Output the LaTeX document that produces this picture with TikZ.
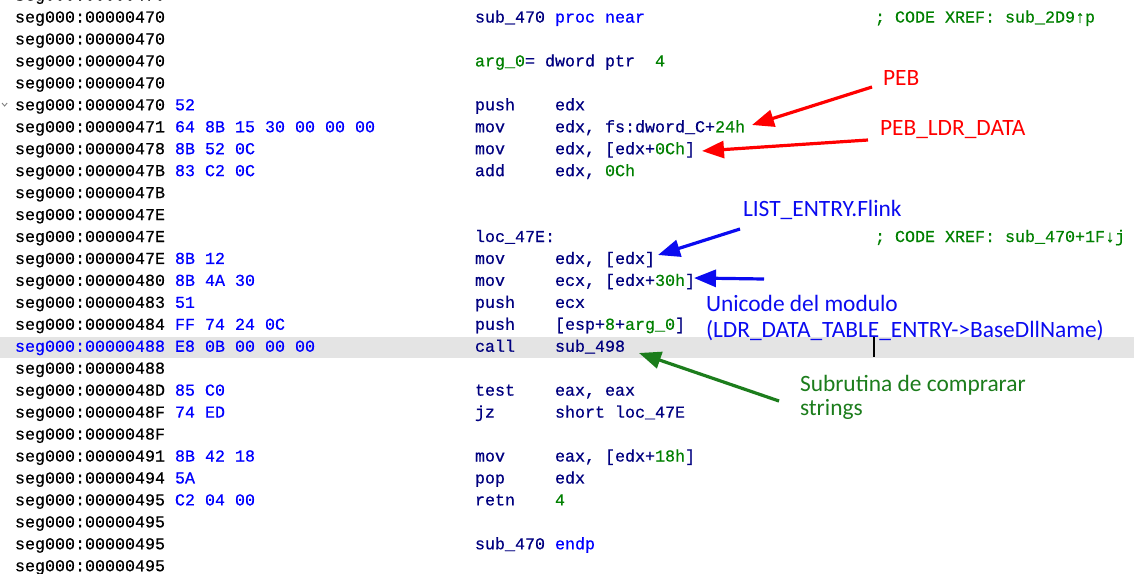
\documentclass[tikz,border=0pt]{standalone}
\usepackage{fontspec}
\usetikzlibrary{arrows.meta}
\newfontfamily\monofont[FakeBold=0.6]{Liberation Mono}
\newfontfamily\annotfont{Carlito}
\definecolor{idanavy}{HTML}{000080}
\definecolor{idablue}{HTML}{0000FF}
\definecolor{idagreen}{HTML}{008000}
\definecolor{annred}{HTML}{FF0000}
\definecolor{annblue}{HTML}{0B0BF0}
\definecolor{anngreen}{HTML}{1C7D1C}
\definecolor{hlgrey}{HTML}{E4E4E4}
\newcommand\numc[1]{\textcolor{idagreen}{#1}}
\newcommand\kwc[1]{\textcolor{idablue}{#1}}
\newcommand\tx[5][]{\node[code,#1] (#2) at ({15+10*#4},{22.5+21.95*(#3)}) {#5};}
\tikzset{
 code/.style={anchor=base west, inner sep=0pt, outer sep=0pt, font=\monofont\fontsize{16.67}{20}\selectfont, text=idanavy},
 addr/.style={text=black},
 hexb/.style={text=idablue},
 cmt/.style={text=idagreen},
 annot/.style={anchor=base west, inner sep=0pt, outer sep=0pt, font=\annotfont\fontsize{23.4}{27}\selectfont},
 callout/.style={line width=3.2pt, -{Triangle[length=22pt,width=17pt]}},
}
\begin{document}
\begin{tikzpicture}[x=1pt,y=-1pt]
\useasboundingbox (0,0) rectangle (1134,573);
\fill[white] (0,0) rectangle (1134,573);
\clip (0,0) rectangle (1134,573);
% highlighted row
\fill[hlgrey] (0,337) rectangle (1134,358);
% collapse chevron
\draw[gray, line width=0.9pt] (2,103) -- (4.6,106) -- (7.2,103);
% ---- code lines ----
\tx[addr]{a00}{-1}{0}{seg000:00000470}
\tx[addr]{a01}{0}{0}{seg000:00000470}
\tx{i01}{0}{46}{sub\_470~\kwc{proc~near}}
\tx[cmt]{c01}{0}{86}{;~CODE~XREF:~sub\_2D9↑p}
\tx[addr]{a02}{1}{0}{seg000:00000470}
\tx[addr]{a03}{2}{0}{seg000:00000470}
\tx{i03}{2}{46}{\numc{arg\_0}=~dword~ptr~~\numc{4}}
\tx[addr]{a04}{3}{0}{seg000:00000470}
\tx[addr]{a05}{4}{0}{seg000:00000470}
\tx[hexb]{b05}{4}{16}{52}
\tx{i05}{4}{46}{push~~~~edx}
\tx[addr]{a06}{5}{0}{seg000:00000471}
\tx[hexb]{b06}{5}{16}{64~8B~15~30~00~00~00}
\tx{i06}{5}{46}{mov~~~~~edx,~fs:dword\_C+\numc{24h}}
\tx[addr]{a07}{6}{0}{seg000:00000478}
\tx[hexb]{b07}{6}{16}{8B~52~0C}
\tx{i07}{6}{46}{mov~~~~~edx,~[edx+\numc{0Ch}]}
\tx[addr]{a08}{7}{0}{seg000:0000047B}
\tx[hexb]{b08}{7}{16}{83~C2~0C}
\tx{i08}{7}{46}{add~~~~~edx,~\numc{0Ch}}
\tx[addr]{a09}{8}{0}{seg000:0000047B}
\tx[addr]{a10}{9}{0}{seg000:0000047E}
\tx[addr]{a11}{10}{0}{seg000:0000047E}
\tx{i11}{10}{46}{loc\_47E:}
\tx[cmt]{c11}{10}{86}{;~CODE~XREF:~sub\_470+1F↓j}
\tx[addr]{a12}{11}{0}{seg000:0000047E}
\tx[hexb]{b12}{11}{16}{8B~12}
\tx{i12}{11}{46}{mov~~~~~edx,~[edx]}
\tx[addr]{a13}{12}{0}{seg000:00000480}
\tx[hexb]{b13}{12}{16}{8B~4A~30}
\tx{i13}{12}{46}{mov~~~~~ecx,~[edx+\numc{30h}]}
\tx[addr]{a14}{13}{0}{seg000:00000483}
\tx[hexb]{b14}{13}{16}{51}
\tx{i14}{13}{46}{push~~~~ecx}
\tx[addr]{a15}{14}{0}{seg000:00000484}
\tx[hexb]{b15}{14}{16}{FF~74~24~0C}
\tx{i15}{14}{46}{push~~~~[esp+\numc{8}+\numc{arg\_0}]}
\tx[hexb]{a16}{15}{0}{seg000:00000488}
\tx[hexb]{b16}{15}{16}{E8~0B~00~00~00}
\tx{i16}{15}{46}{call~~~~sub\_498}
\tx[addr]{a17}{16}{0}{seg000:00000488}
\tx[addr]{a18}{17}{0}{seg000:0000048D}
\tx[hexb]{b18}{17}{16}{85~C0}
\tx{i18}{17}{46}{test~~~~eax,~eax}
\tx[addr]{a19}{18}{0}{seg000:0000048F}
\tx[hexb]{b19}{18}{16}{74~ED}
\tx{i19}{18}{46}{jz~~~~~~short~loc\_47E}
\tx[addr]{a20}{19}{0}{seg000:0000048F}
\tx[addr]{a21}{20}{0}{seg000:00000491}
\tx[hexb]{b21}{20}{16}{8B~42~18}
\tx{i21}{20}{46}{mov~~~~~eax,~[edx+\numc{18h}]}
\tx[addr]{a22}{21}{0}{seg000:00000494}
\tx[hexb]{b22}{21}{16}{5A}
\tx{i22}{21}{46}{pop~~~~~edx}
\tx[addr]{a23}{22}{0}{seg000:00000495}
\tx[hexb]{b23}{22}{16}{C2~04~00}
\tx{i23}{22}{46}{retn~~~~\numc{4}}
\tx[addr]{a24}{23}{0}{seg000:00000495}
\tx[addr]{a25}{24}{0}{seg000:00000495}
\tx{i25}{24}{46}{sub\_470~\kwc{endp}}
\tx[addr]{a26}{25}{0}{seg000:00000495}
% text cursor
\draw[line width=1.5pt] (874,337) -- (874,357);
% ---- annotations ----
\node[annot, text=annred] (peb) at (883,85) {PEB};
\node[annot, text=annred] (ldr) at (880,135) {PEB\_LDR\_DATA};
\node[annot, text=annblue] (flink) at (743,216) {LIST\_ENTRY.Flink};
\node[annot, text=annblue] (uni1) at (706,311) {Unicode del modulo};
\node[annot, text=annblue] (uni2) at (706,337.5) {(LDR\_DATA\_TABLE\_ENTRY->BaseDllName)};
\node[annot, text=anngreen] (sub1) at (800,391) {Subrutina de comprarar};
\node[annot, text=anngreen] (sub2) at (800,415.5) {strings};
\coordinate (pebtail) at (872,87);
\coordinate (pebtip) at (752,125);
\coordinate (ldrtail) at (868,140);
\coordinate (ldrtip) at (702,151);
\coordinate (flinktail) at (740,229);
\coordinate (flinktip) at (658,255);
\coordinate (unitail) at (764,279);
\coordinate (unitip) at (694,278);
\coordinate (subtail) at (779,401);
\coordinate (subtip) at (639,353);
\draw[callout, annred] (pebtail) -- (pebtip);
\draw[callout, annred] (ldrtail) -- (ldrtip);
\draw[callout, annblue] (flinktail) -- (flinktip);
\draw[callout, annblue] (unitail) -- (unitip);
\draw[callout, anngreen] (subtail) -- (subtip);
\end{tikzpicture}
\end{document}
